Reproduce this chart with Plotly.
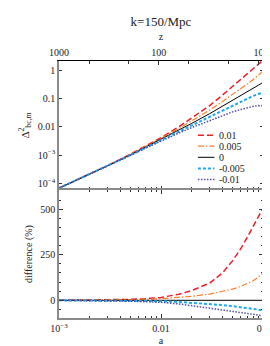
import math
import plotly.graph_objects as go

# ---------------- data ----------------
a_vals = [0.001, 0.0015, 0.002, 0.003, 0.005, 0.007, 0.01, 0.015, 0.02, 0.03,
          0.04, 0.05, 0.06, 0.07, 0.08, 0.09, 0.1]
delta_ref = [6.8e-5, 1.32e-4, 2.12e-4, 4.18e-4, 1.02e-3, 1.87e-3, 3.55e-3, 7.6e-3,
             0.0132, 0.0292, 0.0527, 0.0839, 0.123, 0.172, 0.229, 0.296, 0.372]
diff_p01 = [0, 0.5, 1, 2, 5, 9, 16, 33, 54, 94, 150, 215, 280, 345, 405, 458, 505]
diff_p005 = [0, 0.3, 0.5, 1, 3, 5, 9, 15, 22, 34, 48, 61, 75, 90, 107, 127, 150]
diff_0 = [0] * len(a_vals)
diff_m005 = [0, -0.3, -0.5, -1, -2.5, -3.5, -5, -9, -13, -20, -26, -32, -37, -41, -46, -51, -56]
diff_m01 = [0, -0.6, -1, -2.5, -5, -7.5, -11, -20, -29, -42, -52, -60, -67, -72, -77, -81, -85]

series_labels = ["0.01", "0.005", "0", "-0.005", "-0.01"]
series_diffs = [diff_p01, diff_p005, diff_0, diff_m005, diff_m01]

a_tickvals = [0.001, 0.01, 0.1]
a_ticktext = ["10<sup>\u22123</sup>", "0.01", "0.1"]
z_tickvals = [1000, 100, 10]
z_ticktext = ["1000", "100", "10"]
z_minor = [500, 200, 50, 20]
pk_tickvals = [1, 0.1, 0.01, 1e-3, 1e-4]
pk_ticktext = ["1", "0.1", "0.01", "10<sup>\u22123</sup>", "10<sup>\u22124</sup>"]
diff_tickvals = [0, 250, 500]

# ---------------- styles ----------------
styles = [
    dict(color="#e8202a", width=1.5, dash="6px,3px"),
    dict(color="#ff7f2a", width=1.2, dash="6px,2px,1.5px,2px"),
    dict(color="#000000", width=1.0, dash="solid"),
    dict(color="#1ea8ee", width=2.0, dash="3px,2px"),
    dict(color="#5050aa", width=1.5, dash="1.5px,1.5px"),
]
FONT = "Liberation Serif"
GRAY = "#8a8a8a"

W, H = 270, 346
ML, MR, MT, MB = 51, 9, 53, 32
split = 130.0 / 261.0

a_minor = [m * d for d in (1e-3, 1e-2) for m in range(2, 10)]

fig = go.Figure()

for lab, dif, st in zip(series_labels, series_diffs, styles):
    yv = [r * (1 + d / 100.0) for r, d in zip(delta_ref, dif)]
    fig.add_trace(go.Scatter(x=a_vals, y=yv, mode="lines", line=st, name=lab,
                             xaxis="x", yaxis="y", showlegend=False, hoverinfo="skip"))
    fig.add_trace(go.Scatter(x=a_vals, y=dif, mode="lines", line=st, name=lab,
                             xaxis="x2", yaxis="y2", showlegend=False, hoverinfo="skip"))

# invisible trace so the redshift axis is drawn
fig.add_trace(go.Scatter(x=[1.0 / a - 1.0 for a in a_vals], y=delta_ref, mode="lines",
                         opacity=0, xaxis="x3", yaxis="y", showlegend=False,
                         hoverinfo="skip"))

tickfont = dict(family=FONT, size=10, color="#222")
common_x = dict(type="log", range=[-3, -1],
                ticks="inside", ticklen=4, tickwidth=1, tickcolor="#333",
                tickmode="array", tickvals=a_tickvals,
                minor=dict(tickmode="array", tickvals=a_minor, ticks="inside",
                           ticklen=2.5, tickwidth=1, tickcolor="#333"),
                showgrid=False, zeroline=False, tickfont=tickfont)

fig.update_layout(
    width=W, height=H, margin=dict(l=ML, r=MR, t=MT, b=MB),
    paper_bgcolor="white", plot_bgcolor="white",
    font=dict(family=FONT, size=10, color="#222"),
    title=dict(text="k=150/Mpc", x=0.5, xref="paper", xanchor="center",
               y=1 - 13.5 / H, yref="container", yanchor="middle",
               font=dict(family=FONT, size=13, color="#222")),
    xaxis=dict(common_x, anchor="y", showline=False, showticklabels=False),
    xaxis2=dict(common_x, anchor="y2", showline=True, linecolor=GRAY, linewidth=1.6,
                mirror="allticks", ticktext=a_ticktext,
                title=dict(text="a", standoff=4, font=dict(family=FONT, size=10))),
    xaxis3=dict(type="log", overlaying="x", side="top", anchor="y",
                range=[3.0, math.log10(9)], showline=True,
                linecolor="#000", linewidth=1, ticks="inside", ticklen=4,
                tickcolor="#333", tickmode="array", tickvals=z_tickvals,
                ticktext=z_ticktext,
                minor=dict(tickmode="array", tickvals=z_minor, ticks="inside",
                           ticklen=2.5, tickcolor="#333"),
                showgrid=False, zeroline=False, tickfont=tickfont,
                title=dict(text="z", standoff=4, font=dict(family=FONT, size=10))),
    yaxis=dict(type="log", domain=[split, 1], range=[-4.234, 0.328], showline=True,
               linecolor=GRAY, linewidth=1.5, mirror="ticks", ticks="inside",
               ticklen=3, tickcolor="#333", tickmode="array", tickvals=pk_tickvals,
               ticktext=pk_ticktext, showgrid=False, zeroline=False,
               tickfont=tickfont,
               title=dict(text="\u0394<sup>2</sup><sub>bc,m</sub>", standoff=6,
                          font=dict(family=FONT, size=11))),
    yaxis2=dict(domain=[0, split], range=[-97, 605], showline=True, linecolor=GRAY,
                linewidth=1.5, mirror="allticks", ticks="inside", ticklen=4,
                tickcolor="#333", tickmode="array", tickvals=diff_tickvals,
                minor=dict(dtick=50, ticks="inside", ticklen=2.5, tickcolor="#333"),
                showgrid=False, zeroline=False, tickfont=tickfont,
                title=dict(text="difference (%)", standoff=6,
                           font=dict(family=FONT, size=10))),
)

# right-hand black frame
fig.add_shape(type="line", xref="paper", yref="paper", x0=1, x1=1, y0=0, y1=1,
              line=dict(color="#000", width=1))

# legend drawn inside the upper panel
pw, ph = W - ML - MR, H - MT - MB
leg_top_px, leg_step_px = 128.3, 11.25
line_x0_px, line_x1_px, text_x_px = 194, 211, 214
for i, (lab, st) in enumerate(zip(series_labels, styles)):
    py = leg_top_px + i * leg_step_px
    yp = (H - MB - py) / ph
    fig.add_shape(type="line", xref="paper", yref="paper",
                  x0=(line_x0_px - ML) / pw, x1=(line_x1_px - ML) / pw, y0=yp, y1=yp,
                  line=st)
    fig.add_annotation(text=lab, xref="paper", yref="paper", x=(text_x_px - ML) / pw,
                       y=yp, xanchor="left", yanchor="middle", showarrow=False,
                       font=dict(family=FONT, size=10, color="#222"))

fig.write_html("out.html")
